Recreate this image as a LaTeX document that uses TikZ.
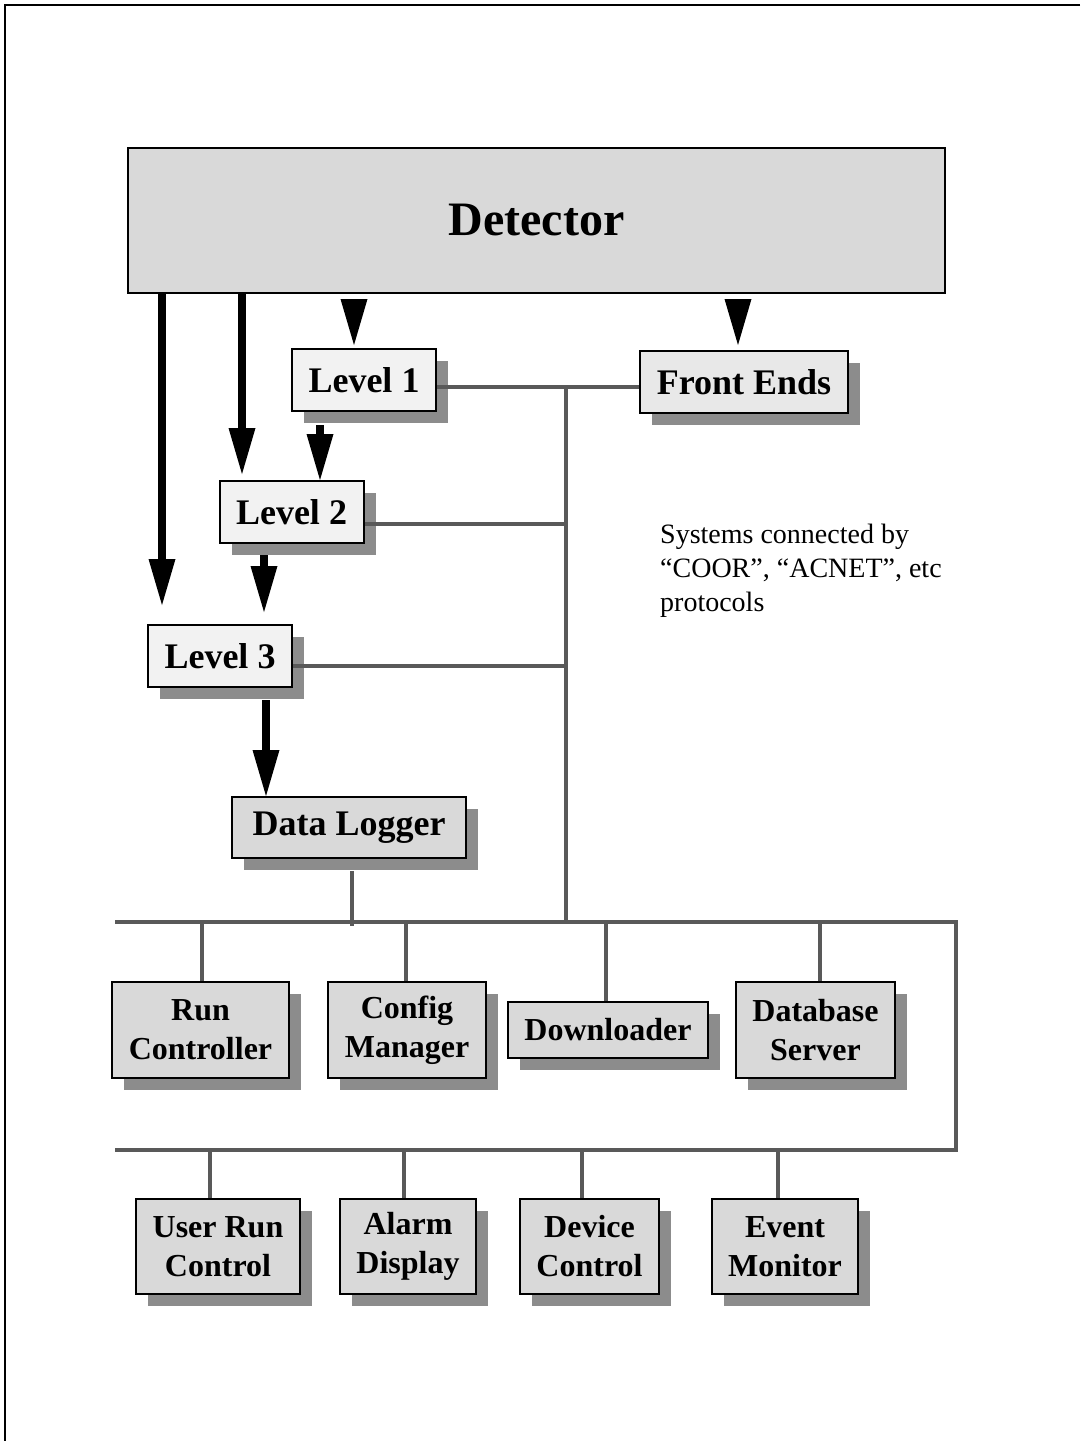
\documentclass[tikz,border=0pt]{standalone}
\usepackage{fontspec}
\setmainfont{Liberation Serif}
\usetikzlibrary{arrows.meta}
\usetikzlibrary{shadows}
\definecolor{shade}{RGB}{140,140,140}
\definecolor{busgray}{RGB}{89,89,89}
\definecolor{boxgray}{RGB}{217,217,217}
\definecolor{lightbox}{RGB}{242,242,242}
\definecolor{febox}{RGB}{232,232,232}

\begin{document}
\begin{tikzpicture}[x=1pt,y=1pt,
	detbox/.style={draw,line width=2pt,fill=boxgray,inner sep=0pt,font=\bfseries\fontsize{48}{58}\selectfont},
	sysbox/.style={draw,line width=2pt,fill=boxgray,inner sep=0pt,align=center,font=\bfseries\fontsize{32}{39}\selectfont,
		drop shadow={shadow xshift=12pt,shadow yshift=-12pt,fill=shade,opacity=1}},
	lvlbox/.style={sysbox,fill=lightbox,minimum width=144pt,minimum height=62pt,font=\bfseries\fontsize{36}{43}\selectfont},
	busline/.style={draw=busgray,line width=3.5pt},
	bigarrow/.style={-{Triangle[length=46pt,width=27pt,line width=0pt]},line width=8pt}]
		\useasboundingbox (0,0) rectangle (1080,-1441);
		\draw[line width=2.5pt] (1080,-5) -| (5,-1441);

		\node[detbox,minimum width=817pt,minimum height=145pt] (det) at (536.5,-220.5) {Detector};
		\node[lvlbox] (lv1) at (364,-380) {Level 1};
		\node[lvlbox] (lv2) at (291.5,-512) {Level 2};
		\node[lvlbox] (lv3) at (220,-656) {Level 3};
		\node[lvlbox,fill=febox,minimum width=208pt] (fe) at (744,-382) {Front Ends};
		\node[lvlbox,fill=boxgray,minimum width=234pt,minimum height=61pt] (dlog) at (349,-827.5) {Data Logger};

		\node[anchor=north west,inner sep=0pt,align=left,font=\fontsize{28}{34}\selectfont] (note) at (660,-524)
			{Systems connected by\\``COOR'', ``ACNET'', etc\\protocols};

		\node[sysbox,minimum width=177pt,minimum height=96pt] (runc) at (200.5,-1030) {Run\\Controller};
		\node[sysbox,minimum width=158pt,minimum height=96pt] (cfgm) at (407,-1030) {Config\\Manager};
		\node[sysbox,minimum width=200pt,minimum height=56pt] (dnld) at (608,-1030) {Downloader};
		\node[sysbox,minimum width=159pt,minimum height=96pt] (dbsv) at (815.5,-1030) {Database\\Server};

		\node[sysbox,minimum width=164pt,minimum height=95pt] (urc) at (218,-1246.5) {User Run\\Control};
		\node[sysbox,minimum width=136pt,minimum height=95pt] (alrm) at (408,-1246.5) {Alarm\\Display};
		\node[sysbox,minimum width=139pt,minimum height=95pt] (devc) at (589.5,-1246.5) {Device\\Control};
		\node[sysbox,minimum width=146pt,minimum height=95pt] (evmn) at (785,-1246.5) {Event\\Monitor};

		% network
		\coordinate (bl) at (115,-922);
		\coordinate (br) at (956,-922);
		\coordinate (bl2) at (115,-1150);
		\coordinate (br2) at (956,-1150);
		\coordinate (jn) at (566,-387);
		\coordinate (j2) at (566,-524);
		\coordinate (j3) at (566,-666);
		\coordinate (tk) at (566,-922);
		\coordinate (dj) at (352,-926);
		\draw[busline] (bl) -- (br) -- (br2) -- (bl2);
		\draw[busline] (jn) -- (tk);
		\draw[busline] (lv1.east |- jn) -- (fe.west |- jn);
		\draw[busline] (lv2.east |- j2) -- (j2);
		\draw[busline] (lv3.east |- j3) -- (j3);
		\draw[busline,shorten <=12pt] (dlog.south -| dj) -- (dj);
		\foreach \bx/\nd in {202/runc,406/cfgm,606/dnld,820/dbsv}
			\draw[busline] (\bx,-922) -- (\nd.north -| \bx,0);
		\foreach \bx/\nd in {210/urc,404/alrm,582/devc,778/evmn}
			\draw[busline] (\bx,-1150) -- (\nd.north -| \bx,0);

		% data flow
		\draw[bigarrow,shorten >=19pt] (det.south -| 162,0) -- (lv3.north -| 162,0);
		\draw[bigarrow,shorten >=6pt] (det.south -| 242,0) -- (lv2.north -| 242,0);
		\draw[bigarrow,shorten <=5pt,shorten >=3pt] (det.south -| 354,0) -- (lv1.north -| 354,0);
		\draw[bigarrow,shorten <=5pt,shorten >=5pt] (det.south -| 738,0) -- (fe.north -| 738,0);
		\draw[bigarrow,shorten <=13pt] (lv1.south -| 320,0) -- (lv2.north -| 320,0);
		\draw[bigarrow,shorten <=11pt,shorten >=12pt] (lv2.south -| 264,0) -- (lv3.north -| 264,0);
		\draw[bigarrow,shorten <=12pt] (lv3.south -| 266,0) -- (dlog.north -| 266,0);
\end{tikzpicture}
\end{document}
